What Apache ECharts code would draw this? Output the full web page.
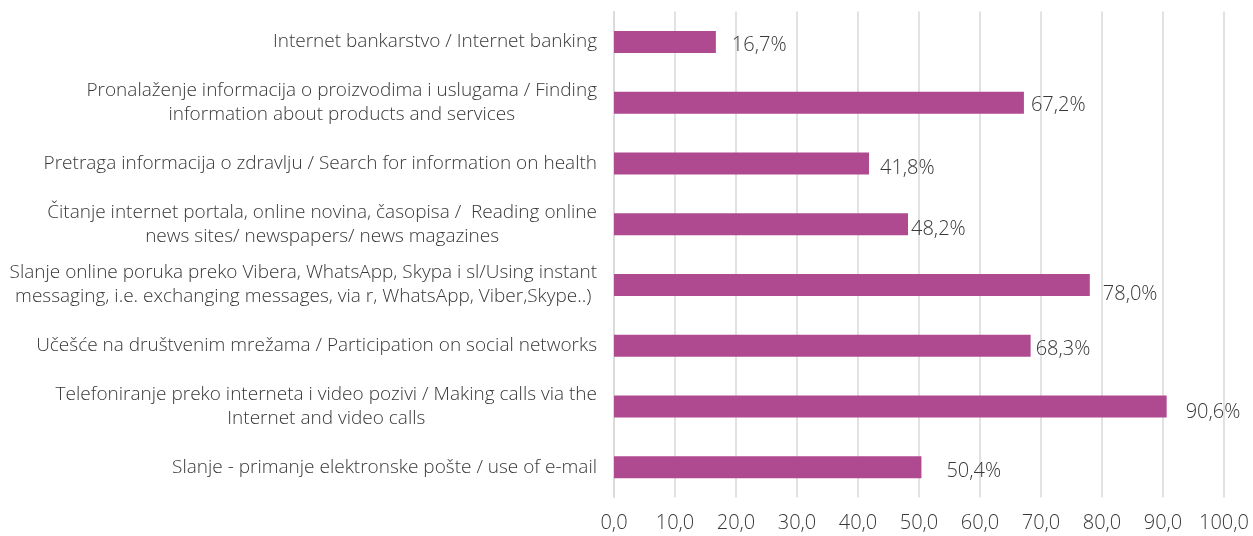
<!DOCTYPE html>
<html><head><meta charset="utf-8">
<script src="https://cdn.jsdelivr.net/npm/echarts@6/dist/echarts.min.js"></script>
<style>html,body{margin:0;padding:0;background:#fff}#c{width:1253px;height:536px}</style>
</head><body><div id="c"></div>
<script>
const categories = [
  "Internet bankarstvo / Internet banking",
  "Pronalaženje informacija o proizvodima i uslugama / Finding\ninformation about products and services",
  "Pretraga informacija o zdravlju / Search for information on health",
  "Čitanje internet portala, online novina, časopisa /  Reading online\nnews sites/ newspapers/ news magazines",
  "Slanje online poruka preko Vibera, WhatsApp, Skypa i sl/Using instant\nmessaging, i.e. exchanging messages, via r, WhatsApp, Viber,Skype..)",
  "Učešće na društvenim mrežama / Participation on social networks",
  "Telefoniranje preko interneta i video pozivi / Making calls via the\nInternet and video calls",
  "Slanje - primanje elektronske pošte / use of e-mail"
];
const values = [16.7, 67.2, 41.8, 48.2, 78.0, 68.3, 90.6, 50.4];
const xTicks = [0,10,20,30,40,50,60,70,80,90,100];
// label offsets (Excel-style manual positions)
const labelOffsets = [[11,3],[2,3],[6,5],[-2,5],[8,9],[0,4],[14,6],[20,4]];

const FONT = 'Open Sans';
const TXT = '#383838';
const chart = echarts.init(document.getElementById('c'));
chart.setOption({
  animation:false,
  grid:{left:614,right:29,top:11.5,bottom:38.5,containLabel:false},
  xAxis:{type:'value',min:0,max:100,interval:10,
    axisLine:{show:false},axisTick:{show:false},
    splitLine:{lineStyle:{color:'#d9d9d9',width:1.5}},
    axisLabel:{margin:16,fontSize:20,color:TXT,fontFamily:FONT,fontWeight:300,
      formatter:v=>v.toFixed(1).replace('.',',')}
  },
  yAxis:{type:'category',inverse:true,data:categories,
    axisLine:{show:true,lineStyle:{color:'#d9d9d9',width:1.5}},axisTick:{show:false},
    axisLabel:{margin:17,fontSize:19,color:TXT,fontFamily:FONT,lineHeight:24,
      formatter:v=>'{c|'+v.split('\n').join('}\n{c|')+'}',
      rich:{c:{align:'center',fontSize:19,color:TXT,fontFamily:FONT,fontWeight:300,lineHeight:24}}}
  },
  series:[{type:'bar',barWidth:22,
    data:values.map((v,i)=>({value:v,label:{offset:labelOffsets[i]}})),
    itemStyle:{color:'#B04A90'},
    label:{show:true,position:'right',distance:5,fontSize:20,color:TXT,fontFamily:FONT,fontWeight:300,
      formatter:p=>p.value.toFixed(1).replace('.',',')+'%'}
  }]
});
</script></body></html>
